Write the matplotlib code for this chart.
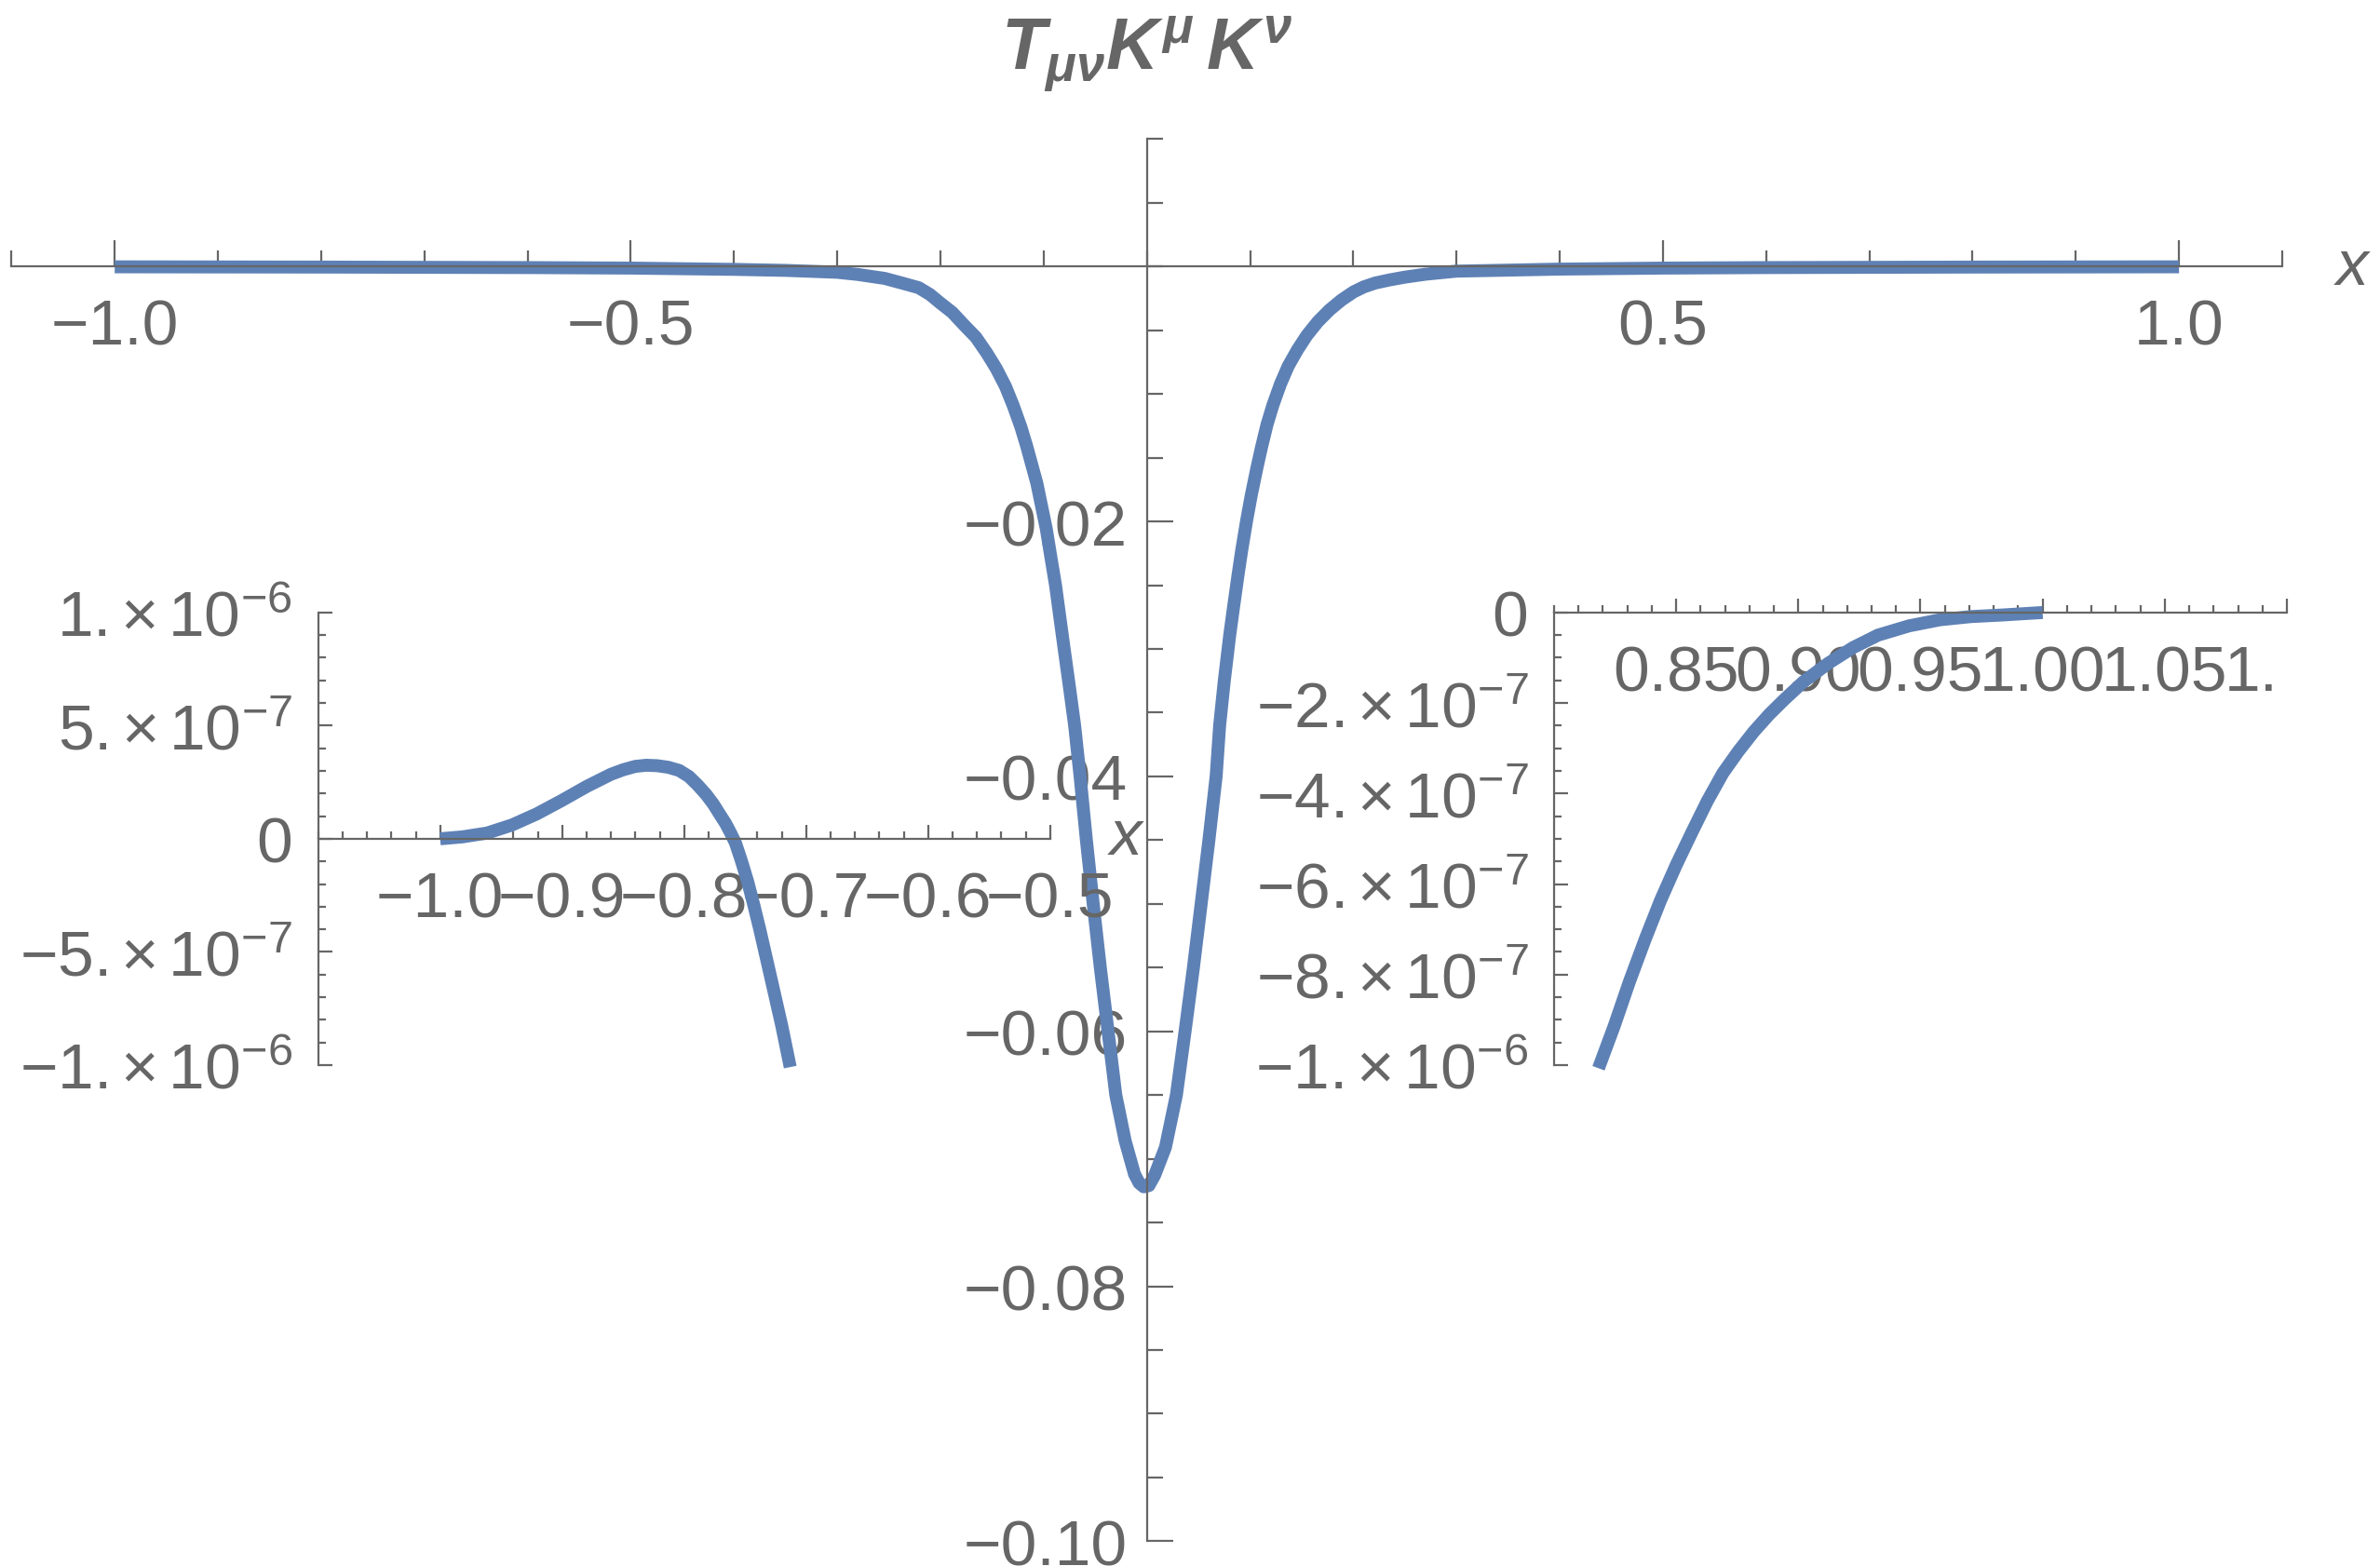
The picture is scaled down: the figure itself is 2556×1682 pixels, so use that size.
import numpy as np
import matplotlib
matplotlib.use("Agg")
import matplotlib.pyplot as plt
from matplotlib.ticker import MultipleLocator
from matplotlib.transforms import Bbox, TransformedBbox

plt.rcParams["font.family"] = ["Liberation Sans", "DejaVu Sans"]
plt.rcParams["mathtext.fontset"] = "custom"
plt.rcParams["mathtext.rm"] = "Liberation Sans"
plt.rcParams["mathtext.it"] = "Liberation Sans:italic:bold"
plt.rcParams["mathtext.bf"] = "Liberation Sans:bold"

gray = "#666666"
blue = "#5E81B5"
fs = 50
lw = 10

# main curve
main_x = [-1.0, -0.8, -0.6, -0.5, -0.4, -0.35, -0.3, -0.28, -0.254, -0.237,
          -0.221, -0.21, -0.2, -0.1885, -0.177, -0.1656, -0.155, -0.1459,
          -0.137, -0.1295, -0.122, -0.1164, -0.111, -0.1066, -0.102, -0.0974,
          -0.093, -0.0885, -0.084, -0.0803, -0.075, -0.070, -0.0647, -0.0586,
          -0.052, -0.0451, -0.0376, -0.0301, -0.021, -0.012, -0.0075, -0.003,
          0.002, 0.0075, 0.018, 0.0286, 0.037, 0.0451, 0.0526, 0.0601, 0.0671,
          0.0705, 0.075, 0.0803, 0.084, 0.0885, 0.092, 0.0967, 0.101, 0.1066,
          0.111, 0.1164, 0.122, 0.1295, 0.137, 0.1459, 0.155, 0.1656, 0.177,
          0.1885, 0.2, 0.21, 0.2213, 0.235, 0.25, 0.27, 0.3, 0.4, 0.5, 0.6,
          0.8, 1.0]
main_y = [-0.00002, -0.00004, -0.00008, -0.00012, -0.00022, -0.0003,
          -0.00045, -0.00062, -0.00093, -0.0013, -0.00166, -0.0022, -0.00287,
          -0.0036, -0.0046, -0.00555, -0.0068, -0.008, -0.0094, -0.0109,
          -0.0126, -0.0141, -0.0157, -0.017, -0.0188, -0.0206, -0.0228,
          -0.025, -0.0277, -0.0299, -0.033, -0.036, -0.04, -0.045, -0.05,
          -0.055, -0.06, -0.065, -0.0686, -0.0712, -0.0719, -0.0722, -0.0721,
          -0.0713, -0.0691, -0.065, -0.06, -0.055, -0.05, -0.045, -0.04,
          -0.036, -0.0325, -0.0289, -0.0267, -0.0241, -0.0222, -0.0199,
          -0.018, -0.0158, -0.0142, -0.0124, -0.0109, -0.0092, -0.0078,
          -0.00653, -0.0054, -0.00433, -0.0034, -0.00263, -0.002, -0.0016,
          -0.00129, -0.00105, -0.00083, -0.0006, -0.00036, -0.0002, -0.00012,
          -0.00008, -0.00004, -0.00002]

# left inset (values in units of 1e-6)
ins1_x = [-1.0, -0.9817, -0.9614, -0.9411, -0.9208, -0.9, -0.88, -0.86,
          -0.85, -0.84, -0.831, -0.822, -0.813, -0.804, -0.796, -0.789,
          -0.782, -0.776, -0.771, -0.766, -0.762, -0.758, -0.753, -0.748,
          -0.743, -0.738, -0.729, -0.72, -0.713]
ins1_y = [0.0, 0.0085, 0.0255, 0.061, 0.11, 0.17, 0.231, 0.285, 0.305, 0.32,
          0.325, 0.323, 0.316, 0.302, 0.275, 0.238, 0.196, 0.153, 0.11,
          0.068, 0.027, -0.017, -0.098, -0.187, -0.29, -0.40, -0.612, -0.825,
          -1.009]

# right inset (values in units of 1e-6)
ins2_x = [0.8182, 0.8246, 0.8309, 0.8373, 0.8436, 0.85, 0.8564, 0.8627,
          0.8691, 0.8754, 0.8818, 0.8881, 0.8945, 0.9021, 0.9123, 0.9224,
          0.9326, 0.9453, 0.958, 0.9707, 0.9834, 1.0]
ins2_y = [-1.007, -0.914, -0.815, -0.722, -0.636, -0.558, -0.486, -0.417,
          -0.355, -0.307, -0.263, -0.225, -0.191, -0.153, -0.112, -0.0775,
          -0.05, -0.0295, -0.016, -0.009, -0.0055, 0.0]

main_xticks = [-1.0, -0.5, 0.5, 1.0]
main_xlabels = ["\u22121.0", "\u22120.5", "0.5", "1.0"]
main_yticks = [-0.10, -0.08, -0.06, -0.04, -0.02]
main_ylabels = ["\u22120.10", "\u22120.08", "\u22120.06", "\u22120.04", "\u22120.02"]

ins1_xticks = [-1.0, -0.9, -0.8, -0.7, -0.6, -0.5]
ins1_xlabels = ["\u22121.0", "\u22120.9", "\u22120.8", "\u22120.7", "\u22120.6", "\u22120.5"]
ins1_yticks = [-1e-6, -5e-7, 0, 5e-7, 1e-6]
ins1_ylabels = ["\u22121.$\\,$\u00d7$\\,$10$^{-6}$", "\u22125.$\\,$\u00d7$\\,$10$^{-7}$", "0",
                "5.$\\,$\u00d7$\\,$10$^{-7}$", "1.$\\,$\u00d7$\\,$10$^{-6}$"]

ins2_xticks = [0.85, 0.90, 0.95, 1.00, 1.05, 1.10]
ins2_xlabels = ["0.85", "0.90", "0.95", "1.00", "1.05", "1.10"]
ins2_yticks = [-1e-6, -8e-7, -6e-7, -4e-7, -2e-7, 0]
ins2_ylabels = ["\u22121.$\\,$\u00d7$\\,$10$^{-6}$", "\u22128.$\\,$\u00d7$\\,$10$^{-7}$",
                "\u22126.$\\,$\u00d7$\\,$10$^{-7}$", "\u22124.$\\,$\u00d7$\\,$10$^{-7}$",
                "\u22122.$\\,$\u00d7$\\,$10$^{-7}$", "0"]


def style_axes(ax, major_len, minor_len, xpad, ypad):
    for s in ["top", "right"]:
        ax.spines[s].set_visible(False)
    for s in ["left", "bottom"]:
        ax.spines[s].set_color(gray)
        ax.spines[s].set_linewidth(1.6)
    ax.patch.set_visible(False)
    ax.tick_params(which="both", direction="in", color=gray, labelcolor=gray,
                   labelsize=fs, width=1.6)
    ax.tick_params(which="major", length=major_len)
    ax.tick_params(which="minor", length=minor_len)
    ax.tick_params(axis="x", which="both", pad=xpad)
    ax.tick_params(axis="y", which="both", pad=ypad)


fig = plt.figure(figsize=(25.56, 16.83), dpi=100)

# main plot
ax = fig.add_axes([0.00483, 0.01586, 0.9541, 0.89477])
ax.plot(main_x, main_y, color=blue, lw=lw, solid_capstyle="butt",
        solid_joinstyle="round", clip_on=False)
ax.set_xlim(-1.1, 1.1)
ax.set_ylim(-0.10, 0.01)
style_axes(ax, 20, 12, 24, 15)
ax.spines["left"].set_position(("data", 0))
ax.spines["bottom"].set_position(("data", 0))
ax.set_xticks(main_xticks)
ax.set_xticklabels(main_xlabels)
ax.xaxis.set_minor_locator(MultipleLocator(0.1))
ax.set_yticks(main_yticks)
ax.set_yticklabels(main_ylabels)
ax.yaxis.set_minor_locator(MultipleLocator(0.005))
ax.text(0, 1.05, r"$T_{\mu\nu}K^{\mu}\,K^{\nu}$", transform=ax.get_xaxis_transform(),
        ha="center", va="baseline", fontsize=56, color=gray)
ax.text(1.168, -0.00137, "x", style="italic", fontsize=fs, color=gray,
        ha="center", va="baseline", clip_on=False)

# left inset
ax1 = fig.add_axes([0.13369, 0.3197, 0.30751, 0.2888])
ax1.plot(ins1_x, np.array(ins1_y) * 1e-6, color=blue, lw=lw,
         solid_capstyle="butt", solid_joinstyle="round", clip_on=False)
ax1.set_xlim(-1.1, -0.5)
ax1.set_ylim(-1e-6, 1e-6)
style_axes(ax1, 10.5, 5.8, 24, 20)
ax1.spines["bottom"].set_position(("data", 0))
ax1.set_xticks(ins1_xticks)
ax1.set_xticklabels(ins1_xlabels)
ax1.xaxis.set_minor_locator(MultipleLocator(0.02))
ax1.set_yticks(ins1_yticks)
ax1.set_yticklabels(ins1_ylabels)
ax1.yaxis.set_minor_locator(MultipleLocator(1e-7))
ax1.text(-0.4377, -0.067e-6, "x", style="italic", fontsize=fs, color=gray,
         ha="center", va="baseline", clip_on=False)

# right inset
ax2 = fig.add_axes([0.65297, 0.3197, 0.3079, 0.2888])
ax2.plot(ins2_x, np.array(ins2_y) * 1e-6, color=blue, lw=lw,
         solid_capstyle="butt", solid_joinstyle="round", clip_on=False)
ax2.set_xlim(0.8, 1.1)
ax2.set_ylim(-1e-6, 0)
style_axes(ax2, 10.5, 5.8, 24, 20)
ax2.spines["bottom"].set_position(("data", 0))
ax2.set_xticks(ins2_xticks)
ax2.set_xticklabels(ins2_xlabels)
ax2.xaxis.set_minor_locator(MultipleLocator(0.01))
ax2.set_yticks(ins2_yticks)
ax2.set_yticklabels(ins2_ylabels)
ax2.yaxis.set_minor_locator(MultipleLocator(5e-8))
last = ax2.xaxis.get_major_ticks()[-1].label1
last.set_clip_box(TransformedBbox(Bbox([[0, 0], [2447 / 2556, 1]]), fig.transFigure))
last.set_clip_on(True)

fig.savefig("out.png", dpi=100)
